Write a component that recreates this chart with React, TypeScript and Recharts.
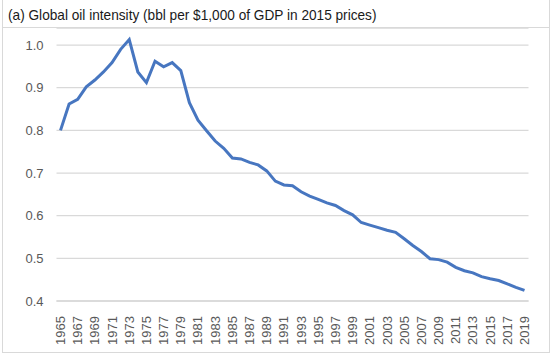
import React from 'react';
import { LineChart, Line, XAxis, YAxis, CartesianGrid } from 'recharts';

const years = [
  '1965', '1966', '1967', '1968', '1969', '1970', '1971', '1972', '1973', '1974',
  '1975', '1976', '1977', '1978', '1979', '1980', '1981', '1982', '1983', '1984',
  '1985', '1986', '1987', '1988', '1989', '1990', '1991', '1992', '1993', '1994',
  '1995', '1996', '1997', '1998', '1999', '2000', '2001', '2002', '2003', '2004',
  '2005', '2006', '2007', '2008', '2009', '2010', '2011', '2012', '2013', '2014',
  '2015', '2016', '2017', '2018', '2019',
];

// bbl per $1,000 of GDP (2015 prices)
const intensity = [
  0.800, 0.862, 0.873, 0.902, 0.918, 0.937, 0.959, 0.990, 1.013, 0.937,
  0.912, 0.962, 0.949, 0.959, 0.940, 0.865, 0.824, 0.799, 0.775, 0.758,
  0.735, 0.733, 0.725, 0.719, 0.705, 0.681, 0.672, 0.670, 0.656, 0.646,
  0.638, 0.630, 0.624, 0.612, 0.602, 0.584, 0.578, 0.572, 0.566, 0.561,
  0.546, 0.530, 0.516, 0.499, 0.497, 0.491, 0.479, 0.471, 0.466, 0.457,
  0.452, 0.448, 0.440, 0.432, 0.425,
];

const yTicks = [0.4, 0.5, 0.6, 0.7, 0.8, 0.9, 1.0];

const title = '(a) Global oil intensity (bbl per $1,000 of GDP in 2015 prices)';

const font = '"Liberation Sans", Arial, sans-serif';

const data = years.map((year, i) => ({ year, value: intensity[i] }));

const YearTick = ({ x, y, payload }: any) => (
  <text
    transform={`translate(${x},${y + 7}) rotate(-90)`}
    textAnchor="end"
    dominantBaseline="central"
    fill="#595959"
    fontSize={13}
    fontFamily={font}
  >
    {payload.value}
  </text>
);

export default function App() {
  return (
    <div style={{ position: 'absolute', left: 0, top: 0, width: 553, height: 355, background: '#fff' }}>
      <div
        style={{
          position: 'absolute', left: 2, top: -1, width: 546, height: 352,
          border: '1px solid #d9d9d9',
        }}
      />
      <div style={{ position: 'absolute', left: 3, top: 27, width: 546, height: 1, background: '#d9d9d9' }} />
      <div
        style={{
          position: 'absolute', left: 8, top: 6, fontSize: 15, lineHeight: '18px',
          fontFamily: font, color: '#1a1a1a', whiteSpace: 'nowrap',
          transform: 'scaleX(0.91)', transformOrigin: 'left center',
        }}
      >
        {title}
      </div>
      <div style={{ position: 'absolute', left: 0, top: 0 }}>
        <LineChart width={553} height={355} data={data} margin={{ top: 28, right: 24.5, left: 0, bottom: 0 }}>
          <CartesianGrid vertical={false} stroke="#d9d9d9" strokeWidth={1.3} />
          <XAxis
            dataKey="year"
            interval={1}
            height={54}
            padding={{ left: 4, right: 4 }}
            tick={<YearTick />}
            tickLine={false}
            axisLine={{ stroke: '#d9d9d9', strokeWidth: 1.3 }}
          />
          <YAxis
            width={56.5}
            domain={[0.4, 1.04]}
            ticks={yTicks}
            tickFormatter={(v: number) => v.toFixed(1)}
            tickLine={false}
            axisLine={false}
            tickSize={0}
            tickMargin={13}
            tick={{ fill: '#595959', fontSize: 13, fontFamily: font }}
          />
          <Line
            type="linear"
            dataKey="value"
            stroke="#4776c0"
            strokeWidth={3}
            dot={false}
            isAnimationActive={false}
          />
        </LineChart>
      </div>
    </div>
  );
}
